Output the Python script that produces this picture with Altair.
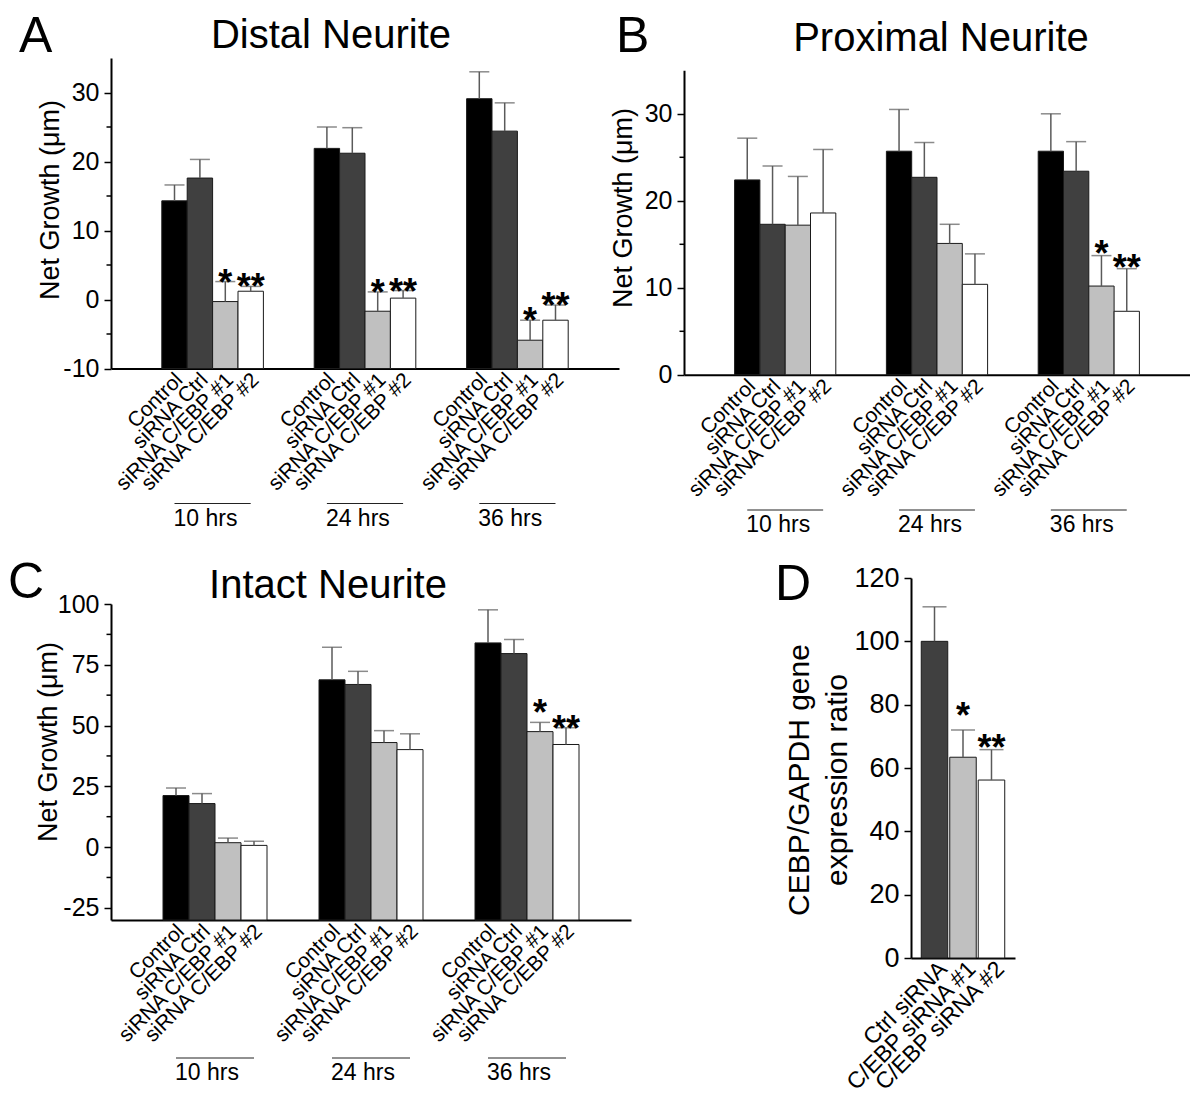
import altair as alt
import pandas as pd

FONT = "Liberation Sans"
ERR = "#5a5a5a"

# ---------------- data ----------------
groups = ["10 hrs", "24 hrs", "36 hrs"]
conditions = ["Control", "siRNA Ctrl", "siRNA C/EBP #1", "siRNA C/EBP #2"]
fills = ["#000000", "#404040", "#c0c0c0", "#ffffff"]

# A: Distal Neurite (mean, error)
a_mean = [14.3, 17.6, -0.3, 1.2, 21.9, 21.2, -1.7, 0.2, 29.1, 24.4, -5.9, -3.0]
a_err = [2.3, 2.7, 2.9, 0.7, 3.1, 3.7, 2.8, 1.1, 3.9, 4.1, 2.9, 2.2]
a_sig = ["", "", "*", "**", "", "", "*", "**", "", "", "*", "**"]

# B: Proximal Neurite
b_mean = [22.4, 17.3, 17.2, 18.6, 25.7, 22.7, 15.1, 10.4, 25.7, 23.4, 10.2, 7.3]
b_err = [4.8, 6.7, 5.6, 7.3, 4.8, 4.0, 2.2, 3.5, 4.3, 3.4, 3.5, 4.9]
b_sig = ["", "", "", "", "", "", "", "", "", "", "*", "**"]

# C: Intact Neurite
c_mean = [21.2, 17.9, 1.8, 0.7, 68.8, 66.9, 43.0, 40.1, 84.0, 79.6, 47.5, 42.2]
c_err = [3.1, 4.1, 1.9, 1.7, 13.4, 5.4, 4.9, 6.5, 13.6, 5.8, 3.8, 6.9]
c_sig = ["", "", "", "", "", "", "", "", "", "", "*", "**"]

# D: expression ratio
d_labels = ["Ctrl siRNA", "C/EBP siRNA #1", "C/EBP siRNA #2"]
d_mean = [100.0, 63.4, 56.2]
d_err = [10.9, 8.6, 9.6]
d_sig = ["", "*", "**"]
d_fills = ["#404040", "#c0c0c0", "#ffffff"]

panel_letters = ["A", "B", "C", "D"]
panel_titles = ["Distal Neurite", "Proximal Neurite", "Intact Neurite"]
growth_title = "Net Growth (\u03bcm)"
d_title = ["CEBP/GAPDH gene", "expression ratio"]


def x_domain_keys():
    dom = ["pad_a", "pad_b"]
    for gi, g in enumerate(groups):
        dom += [f"{c}@{g}" for c in conditions]
        if gi < len(groups) - 1:
            dom += [f"gap_{gi}_a", f"gap_{gi}_b"]
    dom += ["pad_c", "pad_d"]
    return dom


def text_layer(txt, x, y, size, align="left", baseline="alphabetic", angle=None):
    mk = dict(align=align, baseline=baseline, fontSize=size, font=FONT, color="black")
    if angle is not None:
        mk["angle"] = angle
    return alt.Chart(pd.DataFrame({"t": [txt]})).mark_text(**mk).encode(
        x=alt.value(x), y=alt.value(y), text="t:N")


def spacer(L, T, Bt):
    # invisible element that fixes the layout bounds of a panel
    return alt.Chart(pd.DataFrame({"s": [0]})).mark_rule(opacity=0, color="white").encode(
        x=alt.value(-L), x2=alt.value(-L + 1), y=alt.value(-T), y2=alt.value(Bt))


def growth_panel(mean, err, sig, ymin, ymax, major, minor, width, plot_h, top,
                 letter, letter_pos, title, title_pos, ytitle_pos,
                 star_dy, dstar_dy, line_y, label_y, L, T, Bt):
    rows = []
    for gi, g in enumerate(groups):
        for ci, c in enumerate(conditions):
            i = gi * 4 + ci
            rows.append({"key": f"{c}@{g}", "cond": c, "mean": mean[i],
                         "upper": round(mean[i] + err[i], 3), "base": ymin, "sig": sig[i]})
    df = pd.DataFrame(rows)
    height = top + plot_h
    xs = alt.Scale(domain=x_domain_keys(), paddingInner=0, paddingOuter=0)
    xaxis = alt.Axis(title=None, ticks=False, tickSize=0, domainColor="black", domainWidth=2,
                     labelAngle=315, labelAlign="right", labelBaseline="middle",
                     labelFontSize=21, labelFont=FONT, labelColor="black",
                     labelPadding=8, labelOffset=5, labelOverlap=False, labelLimit=500,
                     labelExpr="indexof(datum.value, '@') > 0 ? split(datum.value, '@')[0] : ''",
                     grid=False)
    ys = alt.Scale(domain=[ymin, ymax], range=[height, top], nice=False, zero=False)
    yaxis = alt.Axis(title=None, values=major, tickSize=7, tickWidth=1.5, tickColor="black",
                     domainColor="black", domainWidth=2, labelFontSize=25, labelFont=FONT,
                     labelColor="black", labelPadding=5, grid=False,
                     labelExpr="'' + datum.value")

    def X(f="key"):
        return alt.X(f"{f}:N", scale=xs, axis=xaxis, title=None)

    def Y(f):
        return alt.Y(f"{f}:Q", scale=ys, axis=yaxis, title=None)

    base = alt.Chart(df)
    bars = base.mark_bar(stroke="#1a1a1a", strokeWidth=1).encode(
        x=X(), y=Y("mean"), y2="base:Q",
        color=alt.Color("cond:N", scale=alt.Scale(domain=conditions, range=fills), legend=None))
    errline = base.mark_rule(color=ERR, strokeWidth=1.5).encode(x=X(), y=Y("upper"), y2="mean:Q")
    caps = base.mark_tick(color=ERR, thickness=1.5, size=20).encode(x=X(), y=Y("upper"))
    star1 = base.transform_filter("datum.sig == '*'").mark_text(
        fontSize=36, font=FONT, fontWeight="bold", baseline="alphabetic", dy=star_dy,
        color="black").encode(x=X(), y=Y("upper"), text="sig:N")
    star2 = base.transform_filter("datum.sig == '**'").mark_text(
        fontSize=36, font=FONT, fontWeight="bold", baseline="alphabetic", dy=dstar_dy,
        color="black").encode(x=X(), y=Y("upper"), text="sig:N")
    minor_ticks = alt.Chart(pd.DataFrame({"v": minor})).mark_rule(
        color="black", strokeWidth=1.5).encode(y=Y("v"), x=alt.value(-4.5), x2=alt.value(0))
    gdf = pd.DataFrame({"g": groups,
                        "k1": [f"{conditions[0]}@{g}" for g in groups],
                        "k4": [f"{conditions[-1]}@{g}" for g in groups]})
    gline = alt.Chart(gdf).mark_rule(color="#222", strokeWidth=1).encode(
        x=X("k1"), x2="k4:N", y=alt.value(line_y))
    gtext = alt.Chart(gdf).mark_text(align="left", baseline="alphabetic", fontSize=23,
                                     font=FONT, color="black", dx=-1).encode(
        x=X("k1"), y=alt.value(label_y), text="g:N")
    layers = [bars, errline, caps, star1, star2, minor_ticks, gline, gtext,
              text_layer(letter, letter_pos[0], letter_pos[1], 50),
              text_layer(title, title_pos[0], title_pos[1], 40, align="center"),
              text_layer(growth_title, ytitle_pos[0], ytitle_pos[1], 27, align="center",
                         baseline="middle", angle=270),
              spacer(L, T, Bt)]
    return alt.layer(*layers).properties(width=width, height=height)


# Row 1 origin = top of panel A plot; row 2 origin = top of panel D plot
A = growth_panel(a_mean, a_err, a_sig, -10, 35, [-10, 0, 10, 20, 30], [-5, 5, 15, 25],
                 508, 310.5, 0, "A", (-92, -6), panel_titles[0], (220, -10), (-60, 142),
                 13, 13, 445.5, 467.5, 107, 65.5, 482.5)
B = growth_panel(b_mean, b_err, b_sig, 0, 35, [0, 10, 20, 30], [5, 15, 25],
                 506, 304.5, 12.3, "B", (-68, -6), panel_titles[1], (257, -7), (-60, 150),
                 10, 11, 452, 474, 80, 65.5, 482.5)
C = growth_panel(c_mean, c_err, c_sig, -30, 100, [-25, 0, 25, 50, 75, 100],
                 [-12.5, 12.5, 37.5, 62.5, 87.5],
                 520, 316, 26, "C", (-103, 20), panel_titles[2], (217, 20), (-62, 164),
                 3, 13, 480, 502, 109, 34, 500)

# ---------------- panel D ----------------
ddf = pd.DataFrame({"lab": d_labels, "mean": d_mean,
                    "upper": [round(m + e, 3) for m, e in zip(d_mean, d_err)],
                    "base": [0.0] * 3, "sig": d_sig})
dxs = alt.Scale(domain=d_labels, paddingInner=0.07, paddingOuter=0.36)
dxaxis = alt.Axis(title=None, ticks=False, tickSize=0, domainColor="black", domainWidth=2,
                  labelAngle=315, labelAlign="right", labelBaseline="middle",
                  labelFontSize=23, labelFont=FONT, labelColor="black",
                  labelPadding=7, labelOffset=9, labelOverlap=False, labelLimit=500, grid=False)
dys = alt.Scale(domain=[0, 120], nice=False, zero=False)
dyaxis = alt.Axis(title=None, values=[0, 20, 40, 60, 80, 100, 120], tickSize=7, tickWidth=1.5,
                  tickColor="black", domainColor="black", domainWidth=2, labelFontSize=27,
                  labelFont=FONT, labelColor="black", labelPadding=5, grid=False)
DX = alt.X("lab:N", scale=dxs, axis=dxaxis, title=None)


def DY(f):
    return alt.Y(f"{f}:Q", scale=dys, axis=dyaxis, title=None)


dbase = alt.Chart(ddf)
dbars = dbase.mark_bar(stroke="#1a1a1a", strokeWidth=1).encode(
    x=DX, y=DY("mean"), y2="base:Q",
    color=alt.Color("lab:N", scale=alt.Scale(domain=d_labels, range=d_fills), legend=None))
derr = dbase.mark_rule(color=ERR, strokeWidth=1.5).encode(x=DX, y=DY("upper"), y2="mean:Q")
dcaps = dbase.mark_tick(color=ERR, thickness=1.5, size=24).encode(x=DX, y=DY("upper"))
dstar1 = dbase.transform_filter("datum.sig == '*'").mark_text(
    fontSize=36, font=FONT, fontWeight="bold", baseline="alphabetic", dy=-2,
    color="black").encode(x=DX, y=DY("upper"), text="sig:N")
dstar2 = dbase.transform_filter("datum.sig == '**'").mark_text(
    fontSize=36, font=FONT, fontWeight="bold", baseline="alphabetic", dy=10,
    color="black").encode(x=DX, y=DY("upper"), text="sig:N")
D = alt.layer(
    dbars, derr, dcaps, dstar1, dstar2,
    text_layer(panel_letters[3], -136, 22, 50),
    text_layer(d_title[0], -111, 202, 30, align="center", baseline="middle", angle=270),
    text_layer(d_title[1], -73, 202, 30, align="center", baseline="middle", angle=270),
    spacer(136, 34, 400),
).properties(width=104, height=380)

row1 = alt.hconcat(A, B, spacing=-15).resolve_scale(color="independent")
row2 = alt.hconcat(C, D, spacing=144).resolve_scale(color="independent")
chart = (alt.vconcat(row1, row2, spacing=3)
         .resolve_scale(color="independent")
         .properties(padding={"left": -6, "top": -16, "right": 0, "bottom": 0})
         .configure_view(stroke=None))

chart.save("out.html", embed_options={"renderer": "svg", "actions": False})
